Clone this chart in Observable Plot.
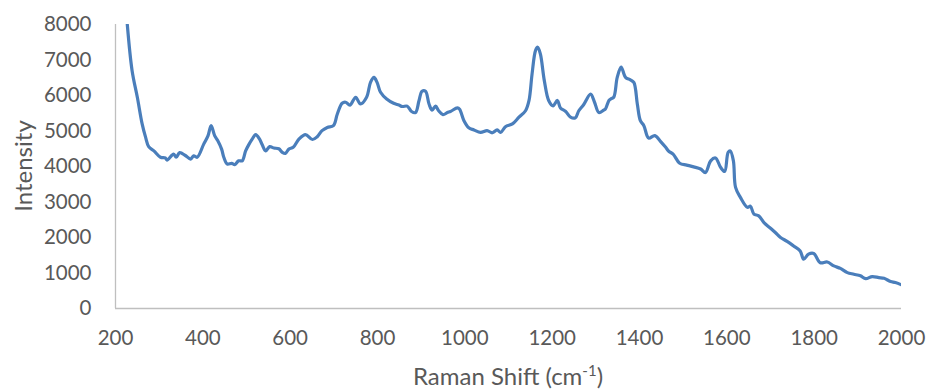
<!DOCTYPE html>
<html>
<head>
<meta charset="utf-8">
<script src="https://cdn.jsdelivr.net/npm/d3@7"></script>
<script src="https://cdn.jsdelivr.net/npm/@observablehq/plot@0.6"></script>
<style>
  body { margin: 0; background: #ffffff; }
  #chart svg { display: block; }
</style>
</head>
<body>
<div id="chart"></div>
<script>
// Raman spectrum: shift (cm-1) and measured intensity
const shift = [
  227, 238, 250, 261, 269, 276, 288, 303, 314, 318, 333, 339, 347, 360, 372, 379, 387,
  402, 412, 419, 427, 434, 443, 448, 456, 466, 473, 482, 490, 498, 505, 513, 521, 530,
  536, 544, 553, 563, 574, 582, 589, 597, 607, 620, 635, 651, 662, 673, 685, 699, 708,
  719, 727, 737, 750, 761, 775, 784, 792, 799, 807, 821, 837, 849, 857, 868, 878, 887,
  895, 902, 910, 918, 925, 933, 940, 950, 960, 967, 983, 988, 998, 1009, 1021, 1036,
  1051, 1063, 1074, 1082, 1093, 1109, 1124, 1139, 1147, 1154, 1162, 1167, 1173, 1182,
  1192, 1202, 1212, 1219, 1231, 1242, 1253, 1261, 1272, 1288, 1297, 1307, 1318, 1322,
  1330, 1334, 1341, 1349, 1358, 1368, 1379, 1387, 1395, 1402, 1410, 1421, 1435, 1448,
  1460, 1467, 1477, 1492, 1508, 1524, 1540, 1551, 1563, 1574, 1586, 1595, 1603, 1608,
  1615, 1620, 1631, 1647, 1654, 1662, 1673, 1685, 1700, 1711, 1723, 1738, 1753, 1768,
  1776, 1787, 1799, 1814, 1830, 1845, 1860, 1876, 1891, 1906, 1918, 1933, 1948, 1960,
  1975, 1986, 2000
];
const intensity = [
  8000, 6700, 5950, 5200, 4820, 4560, 4440, 4260, 4240, 4180, 4350, 4260, 4390, 4310, 4210, 4300, 4260,
  4630, 4870, 5150, 4870, 4730, 4490, 4260, 4070, 4090, 4050, 4160, 4160, 4440, 4610, 4770, 4900, 4770,
  4610, 4440, 4560, 4520, 4500, 4400, 4370, 4490, 4540, 4770, 4900, 4760, 4840, 5010, 5100, 5150, 5480,
  5780, 5810, 5730, 5950, 5760, 5950, 6370, 6510, 6370, 6090, 5900, 5780, 5730, 5690, 5700, 5550, 5520,
  5850, 6120, 6120, 5760, 5590, 5700, 5570, 5460, 5520, 5550, 5650, 5610, 5290, 5090, 5030, 4960,
  5010, 4950, 5030, 4960, 5120, 5200, 5390, 5570, 5860, 6610, 7270, 7360, 7170, 6420,
  5860, 5710, 5860, 5650, 5550, 5390, 5370, 5570, 5740, 6040, 5810, 5520, 5590, 5620,
  5860, 5900, 5950, 6510, 6800, 6510, 6440, 6370, 5760, 5290, 5150, 4800, 4870, 4710,
  4540, 4430, 4350, 4090, 4040, 3990, 3930, 3830, 4160, 4240, 3970, 3860, 4400, 4440,
  4160, 3410, 3130, 2850, 2880, 2660, 2610, 2420, 2260, 2140, 2000, 1890, 1760, 1620,
  1390, 1530, 1550, 1290, 1310, 1200, 1130, 1010, 965, 920, 840, 900, 870, 850,
  760, 730, 665
];
const xTicks = [200, 400, 600, 800, 1000, 1200, 1400, 1600, 1800, 2000];
const yTicks = [0, 1000, 2000, 3000, 4000, 5000, 6000, 7000, 8000];

const spectrum = shift.map((s, i) => ({shift: s, intensity: intensity[i]}));

const textColor = "#595959";
const axisColor = "#bfbfbf";
const fontFamily = "Lato, 'Open Sans', sans-serif";

const chart = Plot.plot({
  width: 928,
  height: 390,
  marginLeft: 115,
  marginRight: 27,
  marginTop: 24,
  marginBottom: 82,
  style: {fontFamily, fontSize: "20.5px", color: textColor, background: "#ffffff"},
  x: {domain: [200, 2000], label: null},
  y: {domain: [0, 8000], label: null},
  marks: [
    Plot.axisX({ticks: xTicks, tickSize: 0, tickPadding: 22, tickFormat: d => String(d), label: null}),
    Plot.axisY({ticks: yTicks, tickSize: 0, tickPadding: 24, tickFormat: d => String(d), label: null}),
    Plot.ruleY([0], {stroke: axisColor, strokeWidth: 1.3}),
    Plot.ruleX([200], {stroke: axisColor, strokeWidth: 1.3}),
    Plot.line(spectrum, {
      x: "shift", y: "intensity",
      stroke: "#4a7ebb", strokeWidth: 3.2,
      curve: "catmull-rom", clip: true,
      strokeLinejoin: "round", strokeLinecap: "round"
    })
  ]
});

// Axis titles, with a superscript unit on the shift axis
const svg = d3.select(chart);
const xTitle = svg.append("text")
  .attr("x", 508).attr("y", 385)
  .attr("text-anchor", "middle")
  .attr("fill", textColor)
  .style("font-family", fontFamily)
  .style("font-size", "24px");
xTitle.append("tspan").text("Raman Shift (cm");
xTitle.append("tspan").attr("dy", -9).style("font-size", "15px").text("-1");
xTitle.append("tspan").attr("dy", 9).text(")");

svg.append("text")
  .attr("transform", "translate(32,166) rotate(-90)")
  .attr("text-anchor", "middle")
  .attr("fill", textColor)
  .style("font-family", fontFamily)
  .style("font-size", "24px")
  .text("Intensity");

document.getElementById("chart").append(chart);
</script>
</body>
</html>
